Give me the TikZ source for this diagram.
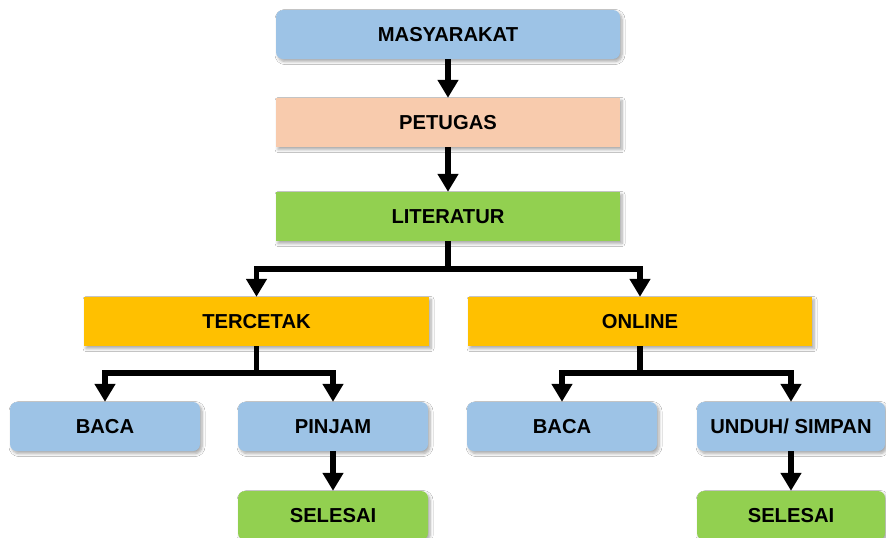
\documentclass[tikz,border=0pt]{standalone}
\usepackage{fontspec}
\setmainfont{Liberation Sans}
\usetikzlibrary{arrows.meta,shadows.blur}
\definecolor{cblue}{HTML}{9DC3E6}
\definecolor{cpeach}{HTML}{F8CBAD}
\definecolor{cgreen}{HTML}{92D050}
\definecolor{corange}{HTML}{FFC000}
\tikzset{
  box/.style={draw=none, minimum height=49pt, inner sep=0pt,
    font=\fontsize{20.2}{23}\selectfont\bfseries,
    blur shadow={shadow xshift=2pt, shadow yshift=-2.5pt, shadow blur steps=6, shadow blur radius=3pt, shadow opacity=35}},
  wide/.style={box, minimum width=344pt},
  narrow/.style={box, minimum width=190pt},
  rbox/.style={rounded corners=7pt},
  arr/.style={line width=5.5pt, -{Triangle[width=20pt,length=18pt]}},
  ln/.style={line width=5.5pt}
}
\begin{document}
\begin{tikzpicture}[x=1pt,y=-1pt]
\useasboundingbox (0,0) rectangle (886,538);
\fill[white] (0,0) rectangle (886,538);
\clip (0,0) rectangle (886,538);
\node[wide, rbox, fill=cblue] (mas) at (448,34.5) {MASYARAKAT};
\node[wide, fill=cpeach] (pet) at (448,122.5) {PETUGAS};
\node[wide, fill=cgreen] (lit) at (448,216.5) {LITERATUR};
\node[wide, minimum width=345pt, fill=corange] (ter) at (256.5,321.5) {TERCETAK};
\node[wide, fill=corange] (onl) at (640,321.5) {ONLINE};
\node[narrow, rbox, fill=cblue] (baca1) at (105,426.5) {BACA};
\node[narrow, rbox, fill=cblue] (pin) at (333,426.5) {PINJAM};
\node[narrow, rbox, fill=cblue] (baca2) at (562,426.5) {BACA};
\node[narrow, rbox, minimum width=188pt, fill=cblue] (unduh) at (791,426.5) {UNDUH/ SIMPAN};
\node[narrow, rbox, fill=cgreen] (sel1) at (333,515.5) {SELESAI};
\node[narrow, rbox, minimum width=188pt, fill=cgreen] (sel2) at (791,515.5) {SELESAI};
\coordinate (j1) at (448,269);
\coordinate (j2) at (256.5,373);
\coordinate (j3) at (640,373);
\draw[arr] (mas) -- (pet);
\draw[arr] (pet) -- (lit);
\draw[ln] (lit.south) -- (j1);
\draw[arr] (j1) -| (ter.north);
\draw[arr] (j1) -| (onl.north);
\draw[ln] (ter.south) -- (j2);
\draw[arr] (j2) -| (baca1.north);
\draw[arr] (j2) -| (pin.north);
\draw[ln] (onl.south) -- (j3);
\draw[arr] (j3) -| (baca2.north);
\draw[arr] (j3) -| (unduh.north);
\draw[arr] (pin) -- (sel1);
\draw[arr] (unduh) -- (sel2);
\end{tikzpicture}
\end{document}
